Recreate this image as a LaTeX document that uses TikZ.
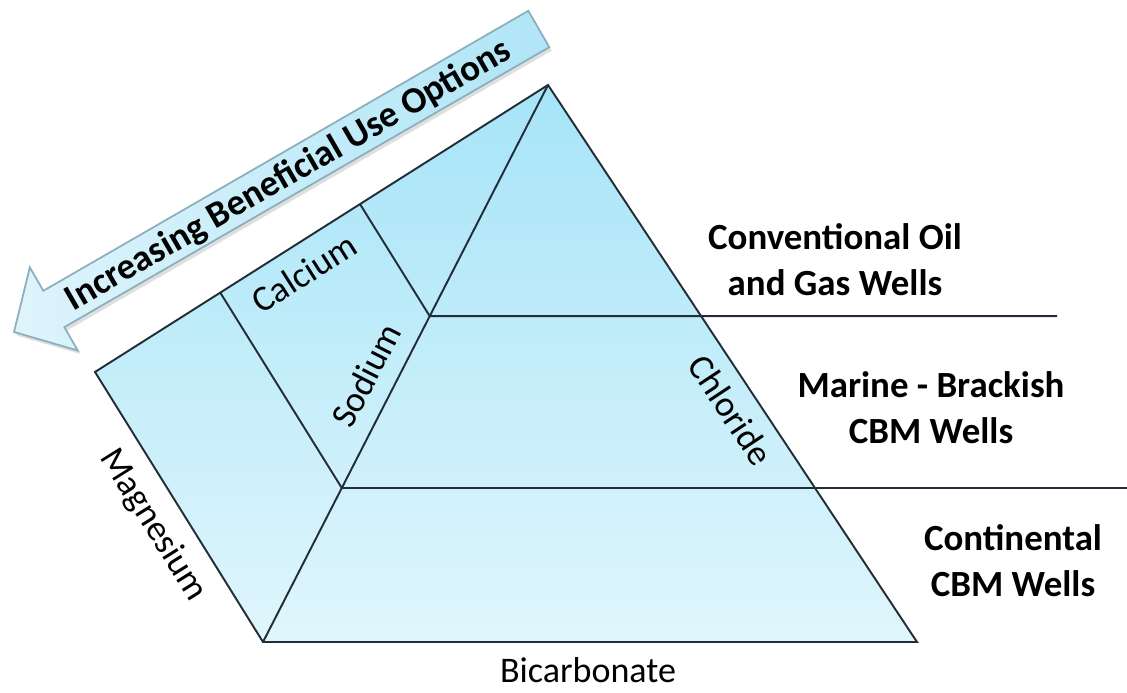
\documentclass[tikz,border=0pt]{standalone}
\usepackage{fontspec}
\setmainfont{Carlito}
\usetikzlibrary{calc,shadows}
\definecolor{topcyan}{RGB}{166,228,248}
\definecolor{palecyan}{RGB}{224,246,252}
\definecolor{arrowcyan}{RGB}{176,229,247}
\definecolor{arrowpale}{RGB}{222,244,251}
\definecolor{arrowrim}{RGB}{140,175,188}
\definecolor{edgecol}{RGB}{35,45,55}
\tikzset{
    edgeline/.style={edgecol, line width=1.1pt},
    ionlabel/.style={font=\fontsize{20.5}{24}\selectfont, inner sep=0pt},
    welllabel/.style={font=\bfseries\fontsize{21}{26.2}\selectfont, align=center, inner sep=0pt}
}

\begin{document}
\begin{tikzpicture}
        \useasboundingbox (0,0) rectangle (22.54,13.86);
        \coordinate (L) at (1.90,6.42);
        \coordinate (A) at (10.96,12.16);
        \coordinate (BL) at (5.26,1.02);
        \coordinate (BR) at (18.34,1.02);
        \coordinate (N1) at ($(BL)!0.2765!(A)$);
        \coordinate (N2) at ($(BL)!0.585!(A)$);
        \coordinate (T1) at ($(L)!0.2765!(A)$);
        \coordinate (T2) at ($(L)!0.585!(A)$);
        \coordinate (E1) at (22.54,0 |- N1);
        \coordinate (E2) at (21.14,0 |- N2);
        \shade[top color=topcyan, bottom color=palecyan] (L) -- (A) -- (BR) -- (BL) -- cycle;
        \draw[edgeline] (L) -- (A) -- (BR) -- (BL) -- cycle;
        \draw[edgeline] (BL) -- (A);
        \draw[edgeline] (T1) -- (N1) -- (E1);
        \draw[edgeline] (T2) -- (N2) -- (E2);
        \begin{scope}[shift={(0.28,7.22)}, rotate=30]
            \draw[arrowrim, line width=1pt, left color=arrowpale, right color=arrowcyan,
                drop shadow={opacity=0.25, shadow xshift=0.05, shadow yshift=-0.07}]
                (0,0) -- (0.92,0.96) -- (0.92,0.42) -- (12.12,0.42) -- (12.12,-0.42)
                -- (0.92,-0.42) -- (0.92,-0.96) -- cycle;
            \node[welllabel, transform shape] (usetext) at (6.32,-0.04) {Increasing Beneficial Use Options};
        \end{scope}
        \node[ionlabel, rotate=32.4] (calcium) at (6.08,8.40) {Calcium};
        \node[ionlabel, rotate=63] (sodium) at (7.32,6.36) {Sodium};
        \node[ionlabel, rotate=-58] (magnesium) at (3.06,3.36) {Magnesium};
        \node[ionlabel, rotate=-56.5] (chloride) at (14.62,5.66) {Chloride};
        \node[ionlabel] (bicarbonate) at (11.76,0.46) {Bicarbonate};
        \node[welllabel] (conventional) at (16.70,8.66) {Conventional Oil\\and Gas Wells};
        \node[welllabel] (marine) at (18.62,5.70) {Marine - Brackish\\CBM Wells};
        \node[welllabel] (continental) at (20.26,2.64) {Continental\\CBM Wells};
\end{tikzpicture}
\end{document}
